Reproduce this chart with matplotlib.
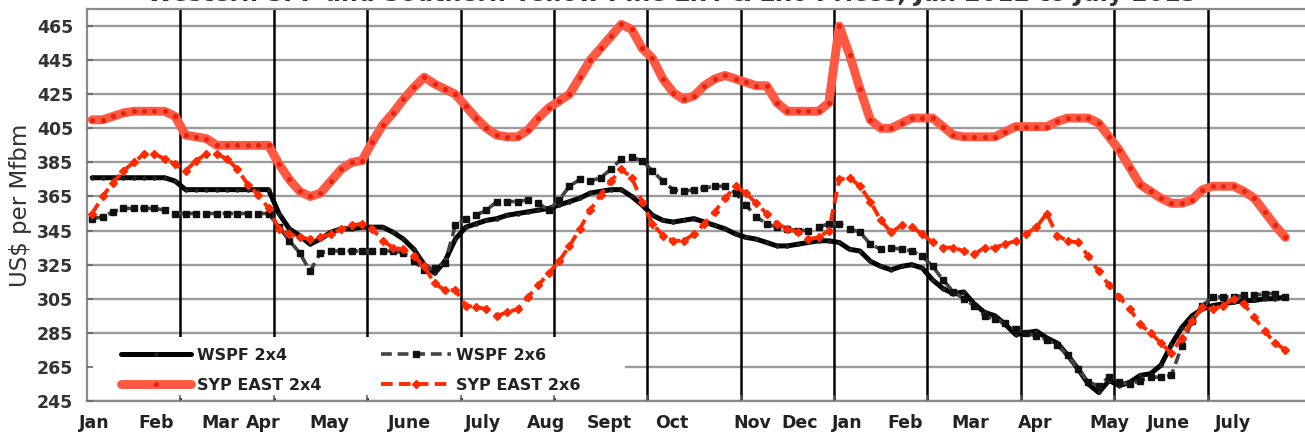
import numpy as np
import matplotlib
matplotlib.use("Agg")
import matplotlib.pyplot as plt
from matplotlib.patches import Rectangle

# ---------------- data ----------------
wspf_2x4 = [376, 376, 376, 376, 376, 376, 376, 376, 374, 369,
            369, 369, 369, 369, 369, 369, 369, 369, 355, 346,
            342, 337, 340, 344, 346, 346, 347, 347, 347, 344,
            340, 334, 325, 320, 327, 340, 347, 349, 351, 352,
            354, 355, 356, 357, 358, 360, 362, 364, 367, 368,
            369, 369, 365, 360, 354, 351, 350, 351, 352, 350,
            348, 346, 343, 341, 340, 338, 336, 336, 337, 338,
            339, 339, 338, 334, 333, 327, 324, 322, 324, 325,
            323, 316, 311, 308, 309, 302, 297, 295, 290, 284,
            285, 286, 282, 279, 272, 264, 255, 250, 257, 254,
            256, 260, 261, 266, 278, 288, 295, 299, 301, 302,
            303, 304, 304, 305, 305, 306]

syp_east_2x4 = [410, 410, 412, 414, 415, 415, 415, 415, 412, 401,
                400, 399, 395, 395, 395, 395, 395, 395, 384, 375,
                368, 365, 367, 374, 381, 385, 386, 397, 407, 414,
                422, 429, 435, 431, 428, 425, 418, 411, 405, 401,
                400, 400, 404, 411, 417, 421, 425, 435, 445, 452,
                459, 466, 463, 452, 446, 434, 426, 422, 424, 430,
                434, 436, 434, 432, 430, 430, 420, 415, 415, 415,
                415, 420, 465, 448, 428, 410, 405, 405, 408, 411,
                411, 411, 406, 401, 400, 400, 400, 400, 403, 406,
                406, 406, 406, 409, 411, 411, 411, 408, 400, 392,
                382, 372, 368, 364, 361, 361, 363, 369, 371, 371,
                371, 368, 364, 356, 348, 341]

wspf_2x6 = [352, 353, 356, 358, 358, 358, 358, 357, 355, 355,
            355, 355, 355, 355, 355, 355, 355, 355, 347, 339,
            332, 321, 332, 333, 333, 333, 333, 333, 333, 333,
            332, 327, 322, 323, 326, 348, 352, 354, 357, 362,
            362, 362, 363, 361, 357, 363, 371, 375, 374, 376,
            381, 387, 388, 386, 380, 374, 369, 368, 369, 370,
            371, 371, 367, 360, 353, 349, 347, 346, 345, 345,
            347, 349, 349, 346, 344, 337, 334, 335, 334, 333,
            330, 324, 316, 309, 305, 301, 295, 293, 291, 287,
            285, 283, 281, 278, 272, 264, 256, 254, 259, 256,
            255, 257, 259, 259, 260, 277, 292, 301, 306, 306,
            306, 307, 307, 308, 308, 306]

syp_east_2x6 = [355, 365, 373, 380, 385, 390, 390, 387, 384, 380,
                386, 390, 390, 387, 381, 372, 366, 358, 346, 343,
                341, 340, 341, 343, 346, 348, 349, 346, 339, 335,
                334, 330, 324, 314, 310, 310, 301, 300, 299, 295,
                297, 299, 306, 313, 320, 327, 336, 346, 357, 366,
                374, 381, 376, 362, 349, 342, 339, 339, 343, 349,
                356, 364, 371, 367, 361, 355, 349, 346, 344, 340,
                341, 345, 375, 376, 371, 362, 351, 344, 348, 347,
                343, 338, 335, 335, 333, 331, 335, 335, 337, 339,
                343, 347, 355, 342, 339, 338, 330, 321, 313, 306,
                299, 290, 285, 279, 273, 282, 292, 300, 299, 301,
                305, 302, 294, 286, 279, 275]

series_names = ["WSPF 2x4", "SYP EAST 2x4", "WSPF 2x6", "SYP EAST 2x6"]

month_labels = ["Jan", "Feb", "Mar", "Apr", "May", "June", "July", "Aug", "Sept",
                "Oct", "Nov", "Dec", "Jan", "Feb", "Mar", "Apr", "May", "June", "July"]
month_pos = [0.2, 6.2, 12.3, 16.5, 22.9, 30.6, 37.7, 43.7, 49.8,
             55.9, 63.6, 68.2, 72.8, 78.3, 84.6, 90.9, 98.0, 103.7, 110.0]

y_ticks = list(range(245, 466, 20))
y_label = "US$ per Mfbm"
title = "Western SPF and Southern Yellow Pine 2x4 & 2x6 Prices, Jan 2012 to July 2013"

# ---------------- figure ----------------
W, H = 1305, 438
fig = plt.figure(figsize=(W / 100, H / 100), dpi=100)
ax = fig.add_axes([87 / W, 37 / H, (W - 87) / W, 392 / H])

x = np.arange(len(wspf_2x4))
n_cat = 117
ax.set_xlim(-0.5, -0.5 + (W - 87) / 10.376)
ax.set_ylim(245, 475)

# horizontal gridlines
for yv in y_ticks:
    ax.axhline(yv, color="#9c9c9c", lw=1.7, zorder=1)

# vertical separators every 9 categories
vlines = np.arange(8.5, n_cat - 1, 9)
for xv in vlines:
    ax.axvline(xv, color="black", lw=1.8, zorder=1.2)

# white box behind legend (hides gridline/separators)
ax.add_patch(Rectangle((0, 0.008), 0.4415, 0.155, transform=ax.transAxes,
                       facecolor="white", edgecolor="none", zorder=2))

l1, = ax.plot(x, wspf_2x4, color="black", lw=3.6, marker="o", ms=2.2,
              markerfacecolor="#222", markeredgecolor="#222", zorder=3,
              solid_joinstyle="round", solid_capstyle="round")
l2, = ax.plot(x, syp_east_2x4, color="#ff5843", lw=6.4, marker="o", ms=2.6,
              markerfacecolor="#e5230f", markeredgecolor="#e5230f", zorder=4,
              solid_joinstyle="round", solid_capstyle="round")
l3, = ax.plot(x, wspf_2x6, color="#444444", lw=2.6, ls=(0, (3, 1.6)), marker="s", ms=4.2,
              markerfacecolor="#111", markeredgecolor="#111", zorder=5)
l4, = ax.plot(x, syp_east_2x6, color="#ff2a00", lw=2.8, ls=(0, (3, 1.6)), marker="D", ms=4.4,
              markerfacecolor="#ff2a00", markeredgecolor="#ff2a00", zorder=6)

leg = ax.legend([l1, l2, l3, l4], series_names, ncol=2, frameon=False,
                loc="upper left", bbox_to_anchor=(0.028, 0.135), borderaxespad=0,
                borderpad=0, handlelength=4.4, handletextpad=0.35, columnspacing=3.7,
                labelspacing=0.93, numpoints=1,
                prop={"family": "DejaVu Sans", "weight": "bold", "size": 11.5})
for t in leg.get_texts():
    t.set_color("#222222")
leg.set_zorder(2.2)

# spines
for s in ["left", "bottom", "top"]:
    ax.spines[s].set_color("#8a8a8a")
    ax.spines[s].set_linewidth(1.6)
ax.spines["right"].set_visible(False)
ax.set_axisbelow(False)

# y ticks
ax.set_yticks(y_ticks)
ax.set_yticklabels([str(v) for v in y_ticks])
ax.tick_params(axis="y", direction="in", length=4, width=1.2, color="#666",
               pad=10, labelsize=12.5, labelcolor="#333")
for t in ax.get_yticklabels():
    t.set_fontweight("bold")
    t.set_family("DejaVu Sans")

# x ticks: separators as major ticks, months as minor labels
ax.set_xticks(vlines)
ax.set_xticklabels([])
ax.tick_params(axis="x", which="major", direction="in", length=4, width=1.2, color="#666")
ax.set_xticks(month_pos, minor=True)
ax.set_xticklabels(month_labels, minor=True)
ax.tick_params(axis="x", which="minor", length=0, pad=9, labelsize=12.5, labelcolor="#222")
for t in ax.get_xticklabels(minor=True):
    t.set_fontweight("bold")
    t.set_family("DejaVu Sans")

ax.set_ylabel(y_label, fontsize=16.5, color="#333", family="DejaVu Sans")
ax.yaxis.set_label_coords(-0.045, 0.5)

# title: only its lower edge shows at the top of the picture, as in the reference
fig.text(0.515, (H - 1) / H, title, ha="center", va="baseline",
         fontsize=17, fontweight="bold", color="#333", family="DejaVu Sans")

fig.savefig("out.png", dpi=100, facecolor="white")
